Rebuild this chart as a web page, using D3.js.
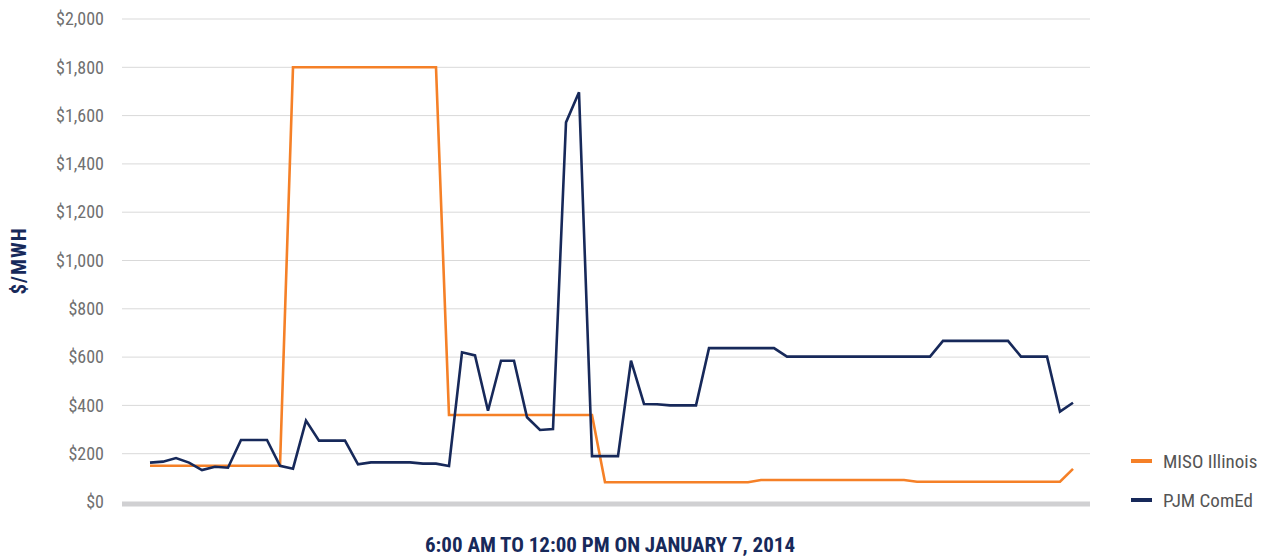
<!DOCTYPE html>
<html><head><meta charset="utf-8">
<script src="https://cdn.jsdelivr.net/npm/d3@7"></script>
<style>
body{margin:0;background:#fff;}
svg text{font-family:"Roboto Condensed",Roboto,"DejaVu Sans Condensed",sans-serif;}
</style></head>
<body><svg id="c" width="1272" height="559"></svg>
<script>
const times = d3.range(72).map(i => { const m = 360 + i*5; return `${Math.floor(m/60)}:${String(m%60).padStart(2,"0")}`; });
const misoIllinois = [150,150,150,150,150,150,150,150,150,150,150,
  1800,1800,1800,1800,1800,1800,1800,1800,1800,1800,1800,1800,
  360,360,360,360,360,360,360,360,360,360,360,360,
  82,82,82,82,82,82,82,82,82,82,82,82,
  91,91,91,91,91,91,91,91,91,91,91,91,
  84,84,84,84,84,84,84,84,84,84,84,84,
  137];
const pjmComEd = [163,167,182,163,132,146,142,257,257,257,150,138,337,254,254,254,156,164,164,164,164,159,159,149,
  620,607,378,585,585,351,298,302,1572,1697,190,190,190,585,406,405,400,400,400,
  637,637,637,637,637,637,602,602,602,602,602,602,602,602,602,602,602,602,
  667,667,667,667,667,667,602,602,602,374,411];
const yTicks = [0,200,400,600,800,1000,1200,1400,1600,1800,2000];
const seriesNames = ["MISO Illinois","PJM ComEd"];
const colors = ["#f58027","#17295a"];

const svg = d3.select("#c");
const gx0 = 122, gx1 = 1090;
const x = d3.scalePoint().domain(times).range([150,1073]);
const y = d3.scaleLinear().domain([0,2000]).range([502,19]);

// grid
svg.append("g").selectAll("line").data(yTicks.filter(d=>d>0)).join("line")
  .attr("x1",gx0).attr("x2",gx1).attr("y1",d=>y(d)).attr("y2",d=>y(d))
  .attr("stroke","#d9d9d9").attr("stroke-width",1);
svg.append("line").attr("x1",gx0).attr("x2",gx1).attr("y1",y(0)+2).attr("y2",y(0)+2)
  .attr("stroke","#d0d0d2").attr("stroke-width",5);

// y axis labels
const ya = svg.append("g").attr("transform","translate(104,0)")
  .call(d3.axisLeft(y).tickValues(yTicks).tickSize(0).tickPadding(0).tickFormat(d=>"$"+d3.format(",")(d)));
ya.select(".domain").remove();
ya.selectAll("text").attr("fill","#707070").style("font-size","18px").style("font-family",null);

// lines
const line = d3.line().x((d,i)=>x(times[i])).y(d=>y(d));
[misoIllinois,pjmComEd].forEach((s,k)=>{
  svg.append("path").datum(s).attr("d",line).attr("fill","none")
    .attr("stroke",colors[k]).attr("stroke-width",2.6).attr("stroke-linejoin","miter");
});

// titles
svg.append("text").attr("transform","translate(26,261) rotate(-90)").attr("text-anchor","middle")
  .attr("fill","#17295a").style("font-weight","bold").style("font-size","21px").style("letter-spacing","1px").text("$/MWH");
svg.append("text").attr("x",610).attr("y",552).attr("text-anchor","middle")
  .attr("fill","#17295a").style("font-weight","bold").style("font-size","21px").text("6:00 AM TO 12:00 PM ON JANUARY 7, 2014");

// legend
const lg = svg.append("g").selectAll("g").data(seriesNames).join("g")
  .attr("transform",(d,i)=>`translate(1131,${461+i*39})`);
lg.append("line").attr("x1",0).attr("x2",21).attr("stroke",(d,i)=>colors[i]).attr("stroke-width",4);
lg.append("text").attr("x",32).attr("dy","0.35em").attr("fill","#555").style("font-size","19px").text(d=>d);
</script></body></html>
